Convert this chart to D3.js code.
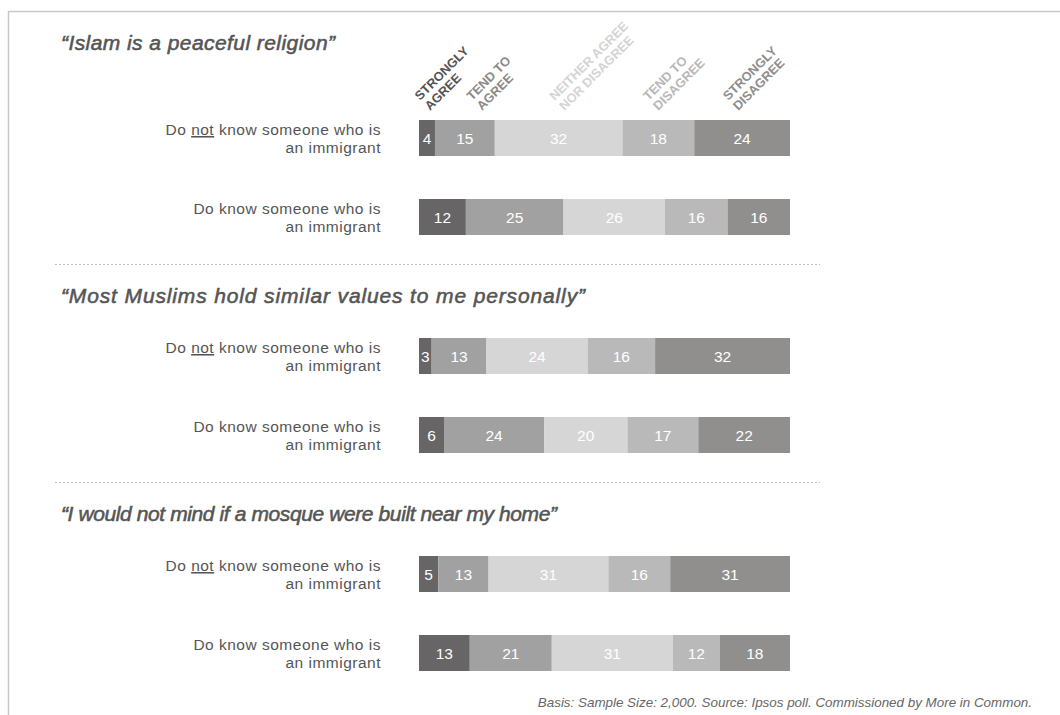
<!DOCTYPE html>
<html>
<head>
<meta charset="utf-8">
<script src="https://cdn.jsdelivr.net/npm/d3@7"></script>
<style>
  html, body { margin: 0; padding: 0; background: #fff; }
  svg { display: block; font-family: "Liberation Sans", Arial, Helvetica, sans-serif; }
</style>
</head>
<body>
<svg id="chart" width="1060" height="715"></svg>
<script>
// ---------------- data ----------------
const categories = ["Strongly agree", "Tend to agree", "Neither agree nor disagree", "Tend to disagree", "Strongly disagree"];
const headerLines = [["STRONGLY", "AGREE"], ["TEND TO", "AGREE"], ["NEITHER AGREE", "NOR DISAGREE"], ["TEND TO", "DISAGREE"], ["STRONGLY", "DISAGREE"]];
const questions = [
  "\u201CIslam is a peaceful religion\u201D",
  "\u201CMost Muslims hold similar values to me personally\u201D",
  "\u201CI would not mind if a mosque were built near my home\u201D"
];
const groups = ["Do not know someone who is an immigrant", "Do know someone who is an immigrant"];
const peacefulNotKnow = [4, 15, 32, 18, 24];
const peacefulKnow    = [12, 25, 26, 16, 16];
const valuesNotKnow   = [3, 13, 24, 16, 32];
const valuesKnow      = [6, 24, 20, 17, 22];
const mosqueNotKnow   = [5, 13, 31, 16, 31];
const mosqueKnow      = [13, 21, 31, 12, 18];
const seriesByQuestion = [
  [peacefulNotKnow, peacefulKnow],
  [valuesNotKnow, valuesKnow],
  [mosqueNotKnow, mosqueKnow]
];
const footnote = "Basis: Sample Size: 2,000. Source: Ipsos poll. Commissioned by More in Common.";

// ---------------- style ----------------
const barColors = ["#676565", "#a1a1a1", "#d7d6d6", "#bab9b9", "#908f8e"];
const headerColors = ["#555555", "#8a8a8a", "#d4d4d4", "#b8b8b8", "#8e8e8e"];
const headerNudge = [3, 17, 6, 0, -4];
const titleWidths = [274, 524, 496];

const svg = d3.select("#chart");

// frame
svg.append("path")
  .attr("d", "M8.5,715 V11.5 H1060")
  .attr("fill", "none").attr("stroke", "#c9c9c9").attr("stroke-width", 1.5);

// scales
const x = d3.scaleLinear().domain([0, 1]).range([419, 790]);
const sectionY = d3.scaleBand().domain(questions).range([85, 85 + 3 * 218]).paddingInner(0).paddingOuter(0);
const rowY = d3.scaleBand().domain(groups).range([35, 35 + 79 + 36]).paddingInner((79 - 36) / 79).paddingOuter(0);

const stack = d3.stack().keys(d3.range(categories.length)).offset(d3.stackOffsetExpand);

questions.forEach((q, qi) => {
  const s = sectionY(q);
  const g = svg.append("g").attr("transform", `translate(0,${s})`);

  // separator
  if (qi > 0) {
    g.append("line")
      .attr("x1", 55).attr("x2", 820).attr("y1", -38.5).attr("y2", -38.5)
      .attr("stroke", "#bdbdbd").attr("stroke-width", 1).attr("stroke-dasharray", "2,2");
  }

  // title
  g.append("text")
    .attr("x", 61).attr("y", qi === 0 ? 50 - s : 0)
    .attr("font-size", 21).attr("font-style", "italic")
    .attr("fill", "#555").attr("stroke", "#555").attr("stroke-width", 0.55)
    .attr("textLength", titleWidths[qi]).attr("lengthAdjust", "spacing")
    .text(q);

  const rows = seriesByQuestion[qi];
  const stacked = stack(rows.map(r => Object.assign({}, r)));

  groups.forEach((grp, gi) => {
    const y0 = rowY(grp);
    const h = rowY.bandwidth();
    const cy = y0 + h / 2;

    // row label
    const lbl = g.append("text").attr("text-anchor", "end").attr("font-size", 15.5)
      .attr("letter-spacing", 0.5).attr("fill", "#555");
    const l1 = lbl.append("tspan").attr("x", 381).attr("y", cy - 3);
    if (gi === 0) {
      l1.append("tspan").text("Do ");
      l1.append("tspan").attr("text-decoration", "underline").text("not");
      l1.append("tspan").text(" know someone who is");
    } else {
      l1.text("Do know someone who is");
    }
    lbl.append("tspan").attr("x", 381).attr("y", cy + 15).text("an immigrant");

    // segments
    stacked.forEach((layer, ci) => {
      const d = layer[gi];
      g.append("rect")
        .attr("x", x(d[0])).attr("y", y0)
        .attr("width", x(d[1]) - x(d[0])).attr("height", h)
        .attr("fill", barColors[ci]);
      g.append("text")
        .attr("x", (x(d[0]) + x(d[1])) / 2).attr("y", cy + 5.5)
        .attr("text-anchor", "middle").attr("font-size", 15.5).attr("fill", "#fff")
        .text(rows[gi][ci]);
    });

    // header labels above first bar
    if (qi === 0 && gi === 0) {
      stacked.forEach((layer, ci) => {
        const d = layer[0];
        const cx = (x(d[0]) + x(d[1])) / 2 + headerNudge[ci];
        const hg = svg.append("g").attr("transform", `translate(${cx},111) rotate(-45)`);
        const t = hg.append("text").attr("font-size", 12.8).attr("font-weight", "bold")
          .attr("fill", headerColors[ci]).attr("text-anchor", "start");
        const [a, b] = headerLines[ci];
        t.append("tspan").attr("x", 0).attr("y", -14).text(a);
        t.append("tspan").attr("x", 0).attr("y", 0).text(b);
      });
    }
  });
});

// footnote
svg.append("text")
  .attr("x", 1032).attr("y", 707).attr("text-anchor", "end")
  .attr("font-size", 13.4).attr("font-style", "italic").attr("fill", "#666")
  .text(footnote);
</script>
</body>
</html>
